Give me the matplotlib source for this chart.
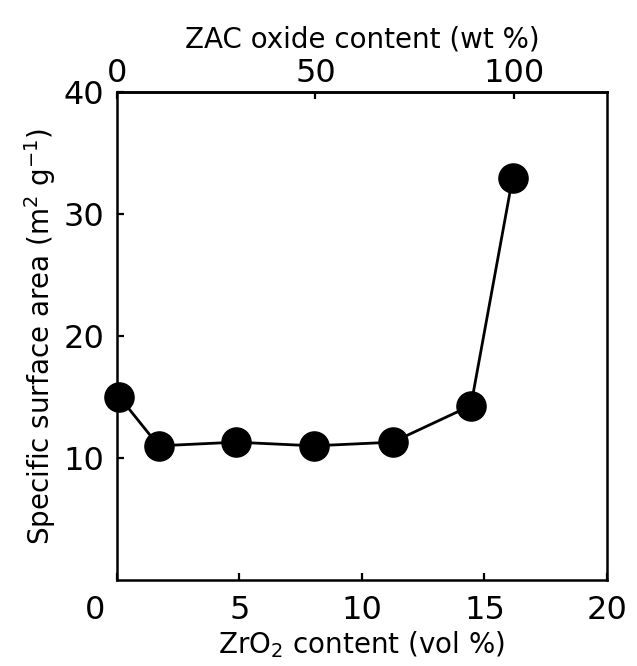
import matplotlib
matplotlib.use("Agg")
import matplotlib.pyplot as plt
import matplotlib.transforms as mtransforms

# ZrO2 content (vol %) vs specific surface area (m2/g)
vol = [0.1, 1.7, 4.85, 8.05, 11.25, 14.45, 16.15]
area = [15.0, 11.0, 11.3, 11.0, 11.3, 14.3, 32.95]

xticks = [0, 5, 10, 15, 20]
yticks = [10, 20, 30, 40]
wt_ticks = [0, 50, 100]
wt_per_vol = 100 / 16.2  # 100 wt% ZAC oxide sits at ~16.2 vol% ZrO2

plt.rcParams['font.family'] = ['DejaVu Sans']

fig = plt.figure(figsize=(6.37, 6.66), dpi=100)
ax = fig.add_axes([0.1837, 0.129, 0.769, 0.733])

ax.plot(vol, area, color='black', lw=2.0, marker='o', ms=21,
        markerfacecolor='black', markeredgecolor='black', clip_on=False, zorder=3)

ax.set_xlim(0, 20)
ax.set_ylim(0, 40)
ax.set_xticks(xticks)
ax.set_yticks(yticks)
ax.tick_params(direction='in', length=5, width=1.6, labelsize=23, pad=9)
ax.tick_params(axis='x', pad=11)
for sp in ax.spines.values():
    sp.set_linewidth(1.8)

# shift the shared corner "0" down-left like the original
lbl0 = ax.get_xticklabels()[0]
lbl0.set_transform(lbl0.get_transform() +
                   mtransforms.ScaledTranslation(-0.22, 0, fig.dpi_scale_trans))

ax.set_xlabel('ZrO$_2$ content (vol %)', fontsize=20, labelpad=2)
ax.set_ylabel('Specific surface area (m$^2$ g$^{-1}$)', fontsize=20, labelpad=4)

top = ax.secondary_xaxis('top', functions=(lambda v: v * wt_per_vol,
                                           lambda w: w / wt_per_vol))
top.set_xticks(wt_ticks)
top.tick_params(direction='in', length=5, width=1.6, labelsize=23, pad=2)
top.spines['top'].set_linewidth(1.8)
top.set_xlabel('ZAC oxide content (wt %)', fontsize=20, labelpad=8)

fig.savefig('out.png', dpi=100)
